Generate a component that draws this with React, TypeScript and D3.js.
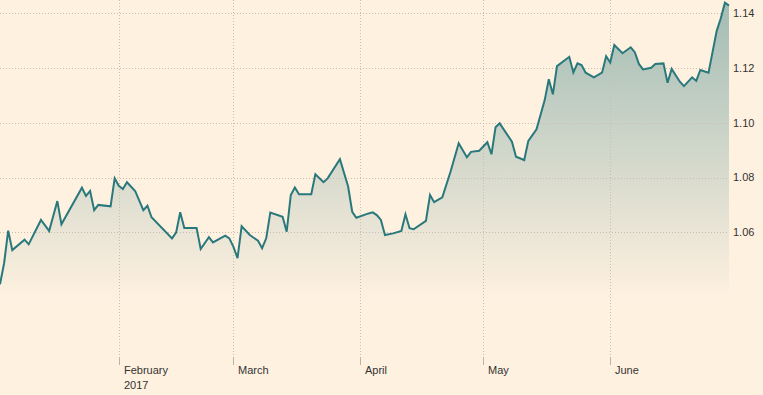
import React from "react";
import * as d3 from "d3";

const dates: string[] = [
  "2017-01-03","2017-01-04","2017-01-05","2017-01-06","2017-01-09","2017-01-10","2017-01-13","2017-01-15",
  "2017-01-17","2017-01-18","2017-01-23","2017-01-24","2017-01-25","2017-01-26","2017-01-27","2017-01-30",
  "2017-01-31","2017-02-01","2017-02-02","2017-02-03","2017-02-05","2017-02-07","2017-02-08","2017-02-09",
  "2017-02-14","2017-02-15","2017-02-16","2017-02-17","2017-02-20","2017-02-21","2017-02-23","2017-02-24",
  "2017-02-27","2017-02-28","2017-03-01","2017-03-02","2017-03-03","2017-03-05","2017-03-07","2017-03-08",
  "2017-03-09","2017-03-10","2017-03-13","2017-03-14","2017-03-15","2017-03-16","2017-03-17","2017-03-20",
  "2017-03-21","2017-03-23","2017-03-24","2017-03-27","2017-03-29","2017-03-30","2017-03-31","2017-04-03",
  "2017-04-04","2017-04-05","2017-04-06","2017-04-07","2017-04-09","2017-04-11","2017-04-12","2017-04-13",
  "2017-04-14","2017-04-17","2017-04-18","2017-04-19","2017-04-21","2017-04-23","2017-04-25","2017-04-27",
  "2017-04-28","2017-04-30","2017-05-02","2017-05-03","2017-05-04","2017-05-05","2017-05-08","2017-05-09",
  "2017-05-11","2017-05-12","2017-05-14","2017-05-16","2017-05-17","2017-05-18","2017-05-19","2017-05-22",
  "2017-05-23","2017-05-24","2017-05-25","2017-05-26","2017-05-28","2017-05-30","2017-05-31","2017-06-01",
  "2017-06-02","2017-06-04","2017-06-06","2017-06-07","2017-06-08","2017-06-09","2017-06-11","2017-06-12",
  "2017-06-14","2017-06-15","2017-06-16","2017-06-18","2017-06-19","2017-06-21","2017-06-22","2017-06-23",
  "2017-06-25","2017-06-27","2017-06-28","2017-06-29","2017-06-30"
];

const values: number[] = [
  1.0410,1.0487,1.0606,1.0535,1.0573,1.0556,1.0645,1.0605,
  1.0714,1.0629,1.0763,1.0733,1.0751,1.0681,1.0700,1.0695,
  1.0797,1.0770,1.0758,1.0783,1.0751,1.0681,1.0697,1.0655,
  1.0578,1.0599,1.0673,1.0616,1.0616,1.0539,1.0582,1.0563,
  1.0588,1.0578,1.0547,1.0506,1.0622,1.0590,1.0569,1.0542,
  1.0578,1.0672,1.0657,1.0602,1.0736,1.0764,1.0739,1.0739,
  1.0812,1.0783,1.0797,1.0867,1.0767,1.0675,1.0653,1.0669,
  1.0673,1.0663,1.0645,1.0590,1.0596,1.0605,1.0666,1.0615,
  1.0611,1.0642,1.0736,1.0710,1.0728,1.0821,1.0925,1.0874,
  1.0894,1.0898,1.0929,1.0885,1.0984,1.0998,1.0931,1.0876,
  1.0864,1.0934,1.0976,1.1083,1.1159,1.1104,1.1207,1.1241,
  1.1184,1.1217,1.1211,1.1183,1.1166,1.1183,1.1243,1.1220,
  1.1284,1.1254,1.1276,1.1258,1.1215,1.1195,1.1201,1.1215,
  1.1217,1.1146,1.1197,1.1150,1.1134,1.1166,1.1153,1.1193,
  1.1183,1.1336,1.1382,1.1439,1.1428
];

const yTicks: number[] = [1.06, 1.08, 1.10, 1.12, 1.14];
const monthTicks: string[] = ["2017-02-01", "2017-03-01", "2017-04-01", "2017-05-01", "2017-06-01"];
const monthLabels: string[] = ["February", "March", "April", "May", "June"];
const yearLabel = "2017";

const W = 763;
const H = 395;
const plotRight = 729;
const plotBottom = 358;

export default function App() {
  const parse = d3.utcParse("%Y-%m-%d");
  const data = dates.map((d, i) => ({ date: parse(d) as Date, value: values[i] }));

  const x = d3
    .scaleUtc()
    .domain(d3.extent(data, (d) => d.date) as [Date, Date])
    .range([0, plotRight]);
  const y = d3.scaleLinear().domain([1.06, 1.14]).range([232.3, 13.3]);

  const line = d3
    .line<{ date: Date; value: number }>()
    .x((d) => x(d.date))
    .y((d) => y(d.value));
  const area = d3
    .area<{ date: Date; value: number }>()
    .x((d) => x(d.date))
    .y0(plotBottom)
    .y1((d) => y(d.value));

  const font = "'Liberation Sans', Arial, Helvetica, sans-serif";
  const textColor = "#333333";
  const gridColor = "#c9bdad";

  return (
    <svg
      width={W}
      height={H}
      style={{ position: "absolute", left: 0, top: 0, display: "block" }}
    >
      <defs>
        <linearGradient id="fillGrad" gradientUnits="userSpaceOnUse" x1="0" y1="0" x2="0" y2="300">
          <stop offset="0" stopColor="#2a787c" stopOpacity={0.44} />
          <stop offset="1" stopColor="#2a787c" stopOpacity={0} />
        </linearGradient>
      </defs>
      <rect x={0} y={0} width={W} height={H} fill="#fff1e0" />
      <path d={area(data) || ""} fill="url(#fillGrad)" />
      {yTicks.map((t) => (
        <line
          key={"h" + t}
          x1={0}
          x2={plotRight}
          y1={Math.round(y(t)) + 0.5}
          y2={Math.round(y(t)) + 0.5}
          stroke={gridColor}
          strokeWidth={1}
          strokeDasharray="1 2"
        />
      ))}
      {monthTicks.map((m, i) => {
        const xx = Math.round(x(parse(m) as Date)) + 0.5;
        return (
          <g key={"v" + m}>
            <line x1={xx} x2={xx} y1={0} y2={plotBottom} stroke={gridColor} strokeWidth={1} strokeDasharray="1 2" />
            <line x1={xx} x2={xx} y1={plotBottom} y2={365} stroke="#bdb1a2" strokeWidth={1} />
            <text x={xx + 4.5} y={374} fontFamily={font} fontSize={11} fill={textColor}>
              {monthLabels[i]}
            </text>
            {i === 0 && (
              <text x={xx + 4.5} y={389} fontFamily={font} fontSize={11} fill={textColor}>
                {yearLabel}
              </text>
            )}
          </g>
        );
      })}
      <path d={line(data) || ""} fill="none" stroke="#29787c" strokeWidth={2} strokeLinejoin="miter" />
      {yTicks.map((t) => (
        <text
          key={"yl" + t}
          x={733}
          y={y(t)}
          dy="0.35em"
          fontFamily={font}
          fontSize={11}
          fill={textColor}
        >
          {t.toFixed(2)}
        </text>
      ))}
    </svg>
  );
}
